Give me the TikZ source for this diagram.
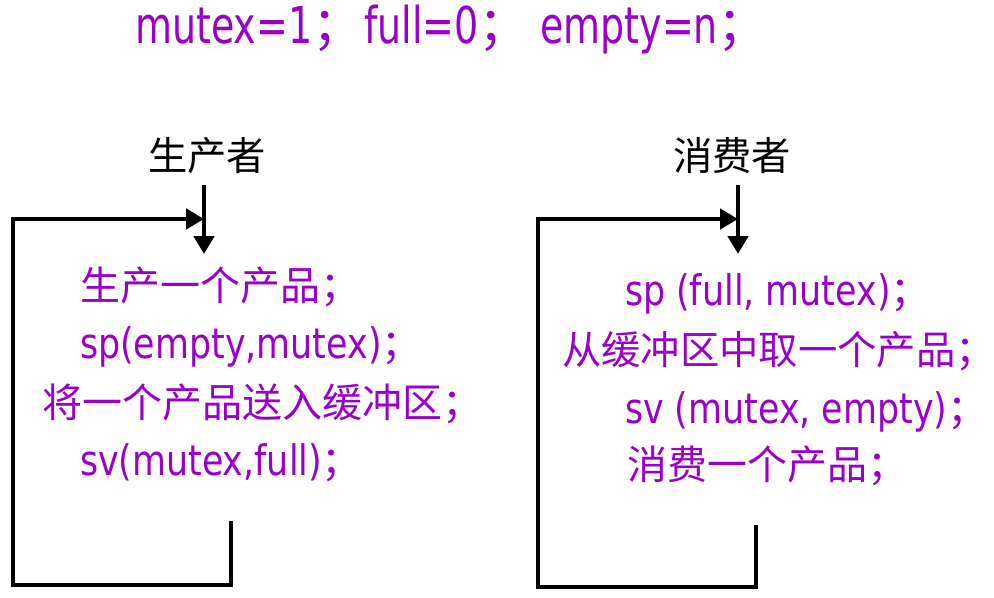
\documentclass[tikz,border=0pt]{standalone}
\usepackage{fontspec}
\setmainfont{DejaVu Sans}
\newfontfamily\cjk{Noto Sans CJK SC}
\newfontfamily\latT[FakeStretch=0.75]{DejaVu Sans}
\newfontfamily\latB[FakeStretch=0.83]{DejaVu Sans}
\usetikzlibrary{arrows.meta}
\definecolor{pur}{RGB}{153,0,204}
\newcommand{\tsz}{\fontsize{38pt}{40pt}\selectfont}
\newcommand{\bsz}{\fontsize{31.5pt}{34pt}\selectfont}
\newcommand{\csz}{\fontsize{30pt}{32pt}\selectfont}
\newcommand{\lsz}{\fontsize{29.5pt}{31pt}\selectfont}
\newcommand{\lastsemi}{{\cjk\csz\makebox[0.35em][l]{；}}}
\begin{document}
\begin{tikzpicture}[x=0.75pt,y=-0.75pt,
  txt/.style={anchor=base west,inner sep=0pt,outer sep=0pt,text=pur},
  lab/.style={anchor=base west,inner sep=0pt,outer sep=0pt,text=black,font=\cjk\lsz},
  loopline/.style={line width=3.4pt,line join=miter,line cap=rect},
  arr/.style={line width=3.4pt,-{Triangle[length=13.5pt,width=15pt]}}]
\useasboundingbox (0,0) rectangle (994,597);
% title
\node[txt] (title) at (135,43) {\tsz\latT mutex=1{\cjk ；}\hspace{1pt}full=0{\cjk ；}\hspace{8pt}empty=n{\cjk\makebox[0.45em][l]{；}}};
% labels
\node[lab] (prod) at (148,170) {生产者};
\node[lab] (cons) at (673,170) {消费者};
% producer text
\node[txt] (p1) at (80,300) {\cjk\csz 生产一个产品\lastsemi};
\node[txt] (p2) at (80,358) {\bsz\latB sp(empty,mutex)\lastsemi};
\node[txt] (p3) at (42,417) {\cjk\csz 将一个产品送入缓冲区\lastsemi};
\node[txt] (p4) at (80,475) {\bsz\latB sv(mutex,full)\lastsemi};
% consumer text
\node[txt] (c1) at (625,305) {\bsz\latB sp (full, mutex)\lastsemi};
\node[txt] (c2) at (562,364) {\cjk\fontsize{29.5pt}{32pt}\selectfont 从缓冲区中取一个产品\lastsemi};
\node[txt] (c3) at (625,423) {\bsz\latB sv (mutex, empty)\lastsemi};
\node[txt] (c4) at (627,479) {\cjk\csz 消费一个产品\lastsemi};
% producer loop
\coordinate (pa) at (231,523);
\coordinate (pb) at (231,585);
\coordinate (pc) at (13,585);
\coordinate (pd) at (13,219);
\coordinate (pe) at (204,219);
\coordinate (ptop) at (204,185);
\coordinate (pin) at (204,254);
\draw[loopline] (pa) -- (pb) -- (pc) -- (pd) -- ([xshift=-6pt]pe);
\draw[arr] (pd) -- (pe);
\draw[arr] (ptop) -- (pin);
% consumer loop
\coordinate (ca) at (756,527);
\coordinate (cb) at (756,587);
\coordinate (cc) at (538,587);
\coordinate (cd) at (538,219);
\coordinate (ce) at (738,219);
\coordinate (ctop) at (738,185);
\coordinate (cin) at (738,254);
\draw[loopline] (ca) -- (cb) -- (cc) -- (cd) -- ([xshift=-6pt]ce);
\draw[arr] (cd) -- (ce);
\draw[arr] (ctop) -- (cin);
\end{tikzpicture}
\end{document}
